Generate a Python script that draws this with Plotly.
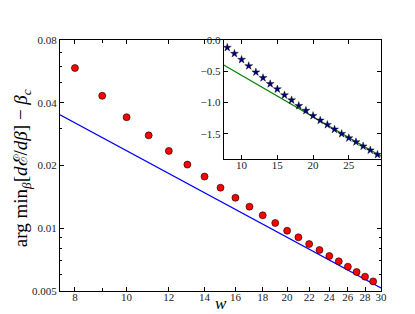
import plotly.graph_objects as go

# main panel data
w_main = list(range(8, 30))
argmin_vals = [0.0587, 0.0432, 0.0341, 0.0279, 0.0235, 0.0202, 0.0177, 0.01565,
               0.0140, 0.01269, 0.01154, 0.0106, 0.00973, 0.00905, 0.0084,
               0.00786, 0.00736, 0.00694, 0.00654, 0.00617, 0.00586, 0.00556]
fit_w = [7.5, 30]
fit_vals = [0.0350, 0.00517]

# inset data
w_inset = list(range(8, 30))
inset_vals = [-0.121, -0.218, -0.314, -0.415, -0.515, -0.606, -0.702, -0.786,
              -0.882, -0.962, -1.052, -1.129, -1.212, -1.286, -1.356, -1.43,
              -1.50, -1.568, -1.632, -1.70, -1.764, -1.834]
inset_fit_w = [7.5, 29.5]
inset_fit_vals = [-0.40, -1.86]

x_major = [8, 10, 12, 14, 16, 18, 20, 22, 24, 26, 28, 30]
x_minor = [9]
y_major = [0.005, 0.01, 0.02, 0.04, 0.08]
y_minor = [0.006, 0.007, 0.008, 0.009, 0.03, 0.05, 0.06, 0.07]
inset_x_ticks = [10, 15, 20, 25]
inset_y_ticks = [0.0, -0.5, -1.0, -1.5]

font_family = "Liberation Serif"

fig = go.Figure()
fig.add_trace(go.Scatter(x=fit_w, y=fit_vals, mode="lines",
                         line=dict(color="#0000ff", width=1.2), showlegend=False))
fig.add_trace(go.Scatter(x=w_main, y=argmin_vals, mode="markers",
                         marker=dict(color="#ff0000", size=7,
                                     line=dict(color="black", width=0.6)),
                         showlegend=False))
fig.add_trace(go.Scatter(x=inset_fit_w, y=inset_fit_vals, mode="lines",
                         line=dict(color="#008000", width=1.2), showlegend=False,
                         xaxis="x2", yaxis="y2"))
fig.add_trace(go.Scatter(x=w_inset, y=inset_vals, mode="markers",
                         marker=dict(symbol="star", color="#00007f", size=6,
                                     line=dict(color="black", width=0.4)),
                         showlegend=False, xaxis="x2", yaxis="y2"))

axis_common = dict(showline=True, linecolor="black", linewidth=1.2, mirror="allticks",
                   ticks="inside", ticklen=4, tickcolor="black", showgrid=False,
                   zeroline=False, tickfont=dict(family=font_family, size=11, color="#222"))

fig.update_layout(
    width=415, height=314,
    margin=dict(l=52, r=42, t=32, b=31),
    paper_bgcolor="white", plot_bgcolor="white",
    font=dict(family=font_family),
    xaxis=dict(type="log", range=[0.87506, 1.47712],
               tickmode="array", tickvals=x_major, ticktext=[str(v) for v in x_major],
               minor=dict(tickmode="array", tickvals=x_minor, ticks="inside", ticklen=3,
                          tickcolor="black"),
               ticklabelstandoff=-4,
               **axis_common),
    yaxis=dict(type="log", range=[-2.30103, -1.09691],
               tickmode="array", tickvals=y_major, ticktext=[str(v) for v in y_major],
               minor=dict(tickmode="array", tickvals=y_minor, ticks="inside", ticklen=2,
                          tickcolor="black"),
               **axis_common),
    xaxis2=dict(domain=[0.51, 1.0], anchor="y2", range=[7.5, 29.5],
                tickmode="array", tickvals=inset_x_ticks,
                ticktext=[str(v) for v in inset_x_ticks], ticklabelstandoff=-4,
                **axis_common),
    yaxis2=dict(domain=[0.527, 1.0], anchor="x2", range=[-1.9, 0.0],
                tickmode="array", tickvals=inset_y_ticks,
                ticktext=["0.0" if v == 0 else "\u2212" + f"{abs(v):.1f}" for v in inset_y_ticks],
                **axis_common),
    annotations=[
        dict(text="<i>w</i>", x=0.5, y=-0.094, xref="paper", yref="paper",
             xanchor="center", yanchor="bottom", showarrow=False,
             font=dict(family=font_family, size=17, color="black")),
        dict(text="arg min<sub><i>β</i></sub>[<i>d</i>ℰ/<i>dβ</i>] − <i>β</i><sub><i>c</i></sub>",
             x=-0.118, y=0.49, xref="paper", yref="paper", textangle=-90,
             xanchor="center", yanchor="middle", showarrow=False,
             font=dict(family=font_family, size=19, color="black")),
    ],
)

fig.write_html("out.html")
